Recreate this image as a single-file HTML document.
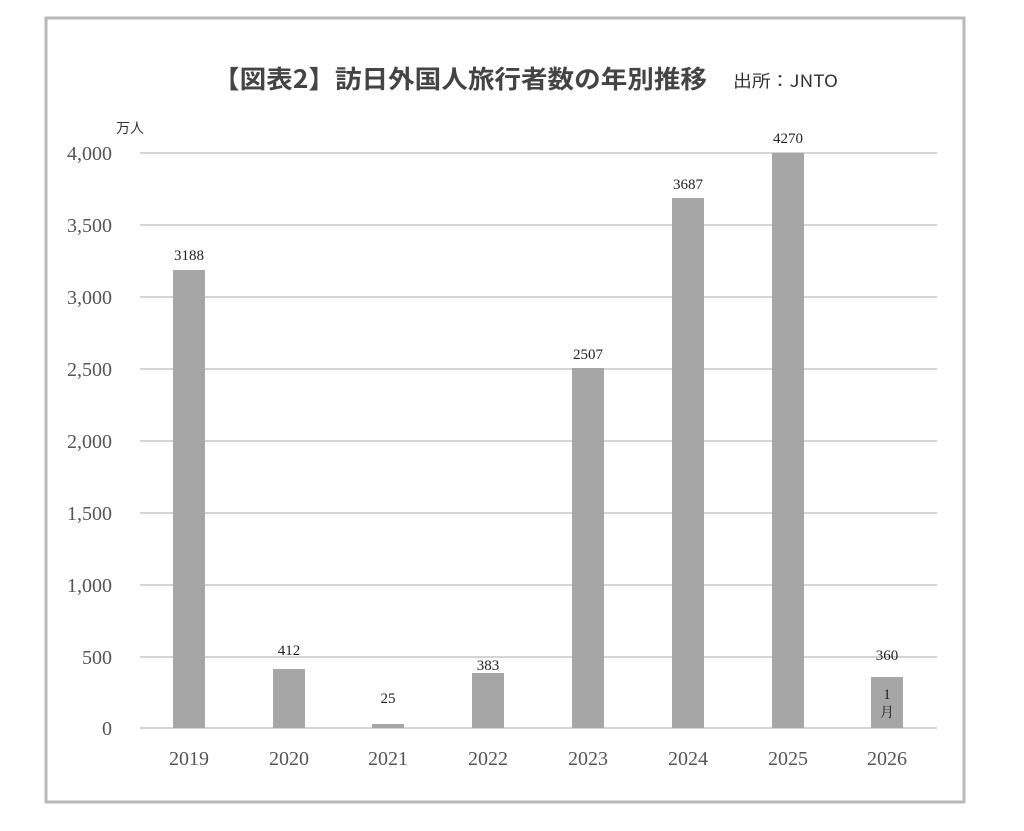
<!DOCTYPE html>
<html><head><meta charset="utf-8"><style>
html,body{margin:0;padding:0;background:#fff;}
svg{display:block;}
</style></head><body>
<svg width="1024" height="831" viewBox="0 0 1024 831" xmlns="http://www.w3.org/2000/svg">
<rect x="46" y="18" width="918" height="784" fill="#fff" stroke="#b8b8b8" stroke-width="3"/>
<g fill="#333">
<text x="213" y="88" font-size="25" font-weight="bold" textLength="494" lengthAdjust="spacingAndGlyphs" font-family="'Noto Sans CJK JP','Liberation Sans',sans-serif" fill="#444">【図表2】訪日外国人旅行者数の年別推移</text>
<text x="733" y="87" font-size="17" textLength="105" lengthAdjust="spacingAndGlyphs" font-family="'Noto Sans CJK JP',sans-serif">出所：JNTO</text>
<text x="116" y="133" font-size="14" font-family="'Noto Sans CJK JP',sans-serif">万人</text>
</g>
<g stroke="#d4d4d4" stroke-width="2">
<line x1="140" x2="937" y1="153" y2="153"/>
<line x1="140" x2="937" y1="225" y2="225"/>
<line x1="140" x2="937" y1="297" y2="297"/>
<line x1="140" x2="937" y1="369" y2="369"/>
<line x1="140" x2="937" y1="441" y2="441"/>
<line x1="140" x2="937" y1="513" y2="513"/>
<line x1="140" x2="937" y1="585" y2="585"/>
<line x1="140" x2="937" y1="657" y2="657"/>
<line x1="140" x2="937" y1="728" y2="728"/>
</g>
<g font-family="'Liberation Serif',serif" font-size="20" fill="#555" text-anchor="end">
<text x="112" y="160">4,000</text>
<text x="112" y="232">3,500</text>
<text x="112" y="304">3,000</text>
<text x="112" y="376">2,500</text>
<text x="112" y="448">2,000</text>
<text x="112" y="520">1,500</text>
<text x="112" y="592">1,000</text>
<text x="112" y="664">500</text>
<text x="112" y="735">0</text>
</g>
<g fill="#a6a6a6">
<rect x="173" y="270" width="32" height="458"/>
<rect x="273" y="669" width="32" height="59"/>
<rect x="372" y="724" width="32" height="4"/>
<rect x="472" y="673" width="32" height="55"/>
<rect x="572" y="368" width="32" height="360"/>
<rect x="672" y="198" width="32" height="530"/>
<rect x="772" y="153" width="32" height="575"/>
<rect x="871" y="677" width="32" height="51"/>
</g>
<g font-family="'Liberation Serif',serif" font-size="15" fill="#222" text-anchor="middle">
<text x="189" y="260">3188</text>
<text x="289" y="655">412</text>
<text x="388" y="703">25</text>
<text x="488" y="670">383</text>
<text x="588" y="359">2507</text>
<text x="688" y="189">3687</text>
<text x="788" y="143">4270</text>
<text x="887" y="660">360</text>
<text x="887" y="699">1</text>
<text x="887" y="717" font-family="'Noto Serif CJK SC',serif" font-size="14">月</text>
</g>
<g font-family="'Liberation Serif',serif" font-size="20" fill="#555" text-anchor="middle">
<text x="189" y="765">2019</text>
<text x="289" y="765">2020</text>
<text x="388" y="765">2021</text>
<text x="488" y="765">2022</text>
<text x="588" y="765">2023</text>
<text x="688" y="765">2024</text>
<text x="788" y="765">2025</text>
<text x="887" y="765">2026</text>
</g>
</svg>
</body></html>
